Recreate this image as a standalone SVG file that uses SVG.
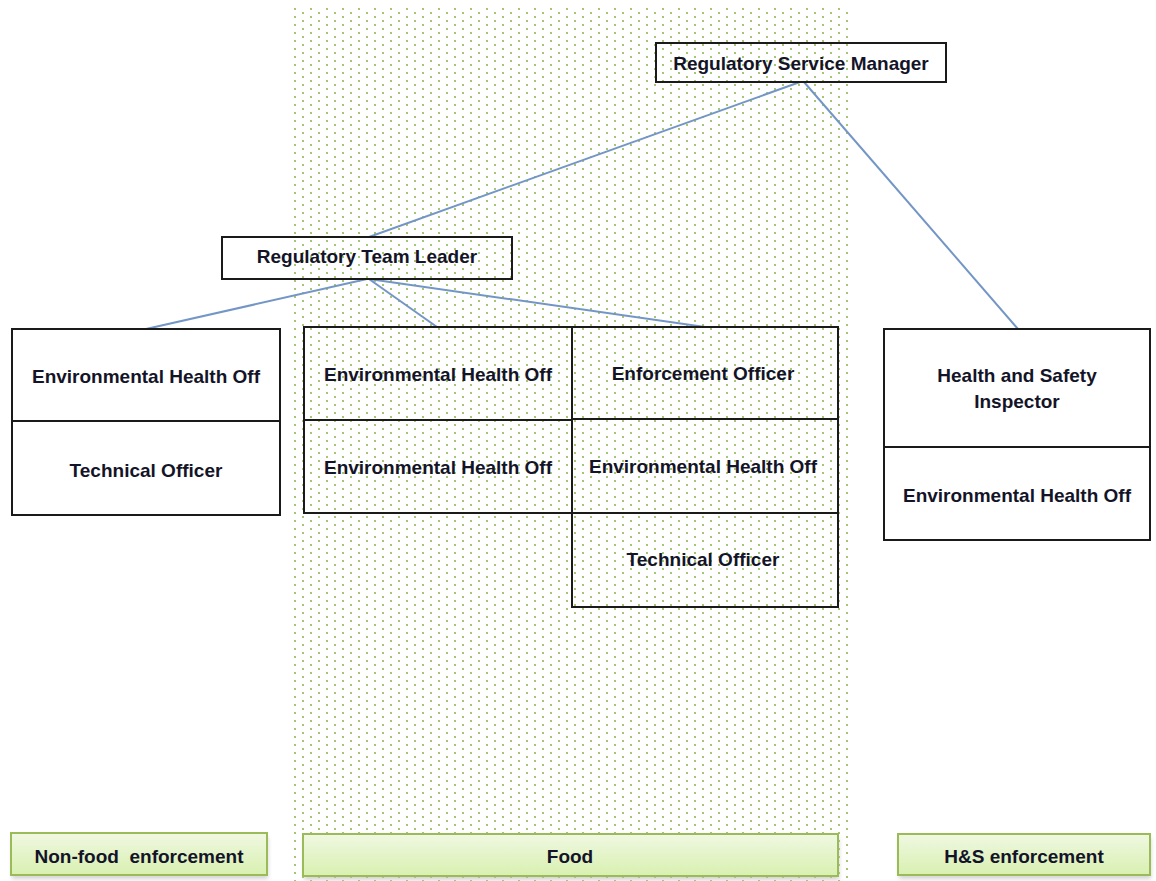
<svg xmlns="http://www.w3.org/2000/svg" width="1156" height="881" viewBox="0 0 1156 881">
<defs>
<pattern id="dots" patternUnits="userSpaceOnUse" x="294" y="8" width="16" height="8">
<rect x="0" y="0" width="2" height="2" fill="#a6c676"/>
<rect x="8" y="4" width="2" height="2" fill="#a6c676"/>
</pattern>
<linearGradient id="lbl" x1="0" y1="0" x2="0" y2="1">
<stop offset="0" stop-color="#f0f8e2"/>
<stop offset="1" stop-color="#d8f0b0"/>
</linearGradient>
<filter id="sh" x="-5%" y="-20%" width="110%" height="160%">
<feGaussianBlur stdDeviation="2"/>
</filter>
</defs>
<style>
.box{fill:none;stroke:#1a1a1a;stroke-width:2}
.t{font-family:"Liberation Sans",Arial,sans-serif;font-weight:bold;font-size:19px;fill:#141428;text-anchor:middle}
.con{stroke:#7396c6;stroke-width:2;fill:none}
.lbl{fill:url(#lbl);stroke:#9bbb59;stroke-width:2}
.shadow{fill:#b8b8b8;opacity:0.6;filter:url(#sh)}
</style>
<rect x="0" y="0" width="1156" height="881" fill="#ffffff"/>
<rect id="food-zone" x="293" y="6" width="558" height="875" fill="url(#dots)"/>

<g id="connectors">
<line class="con" x1="800" y1="82" x2="369" y2="237"/>
<line class="con" x1="804" y1="82" x2="1018" y2="329"/>
<line class="con" x1="367" y1="279" x2="146" y2="329"/>
<line class="con" x1="369" y1="279" x2="437" y2="327"/>
<line class="con" x1="369" y1="279" x2="705" y2="327"/>
</g>

<g id="regulatory-service-manager">
<rect class="box" x="656" y="43" width="290" height="39"/>
<text class="t" x="801" y="70">Regulatory Service Manager</text>
</g>

<g id="regulatory-team-leader">
<rect class="box" x="222" y="237" width="290" height="42"/>
<text class="t" x="367" y="263">Regulatory Team Leader</text>
</g>

<g id="nonfood-team">
<rect class="box" x="12" y="329" width="268" height="92"/>
<text class="t" x="146" y="383">Environmental Health Off</text>
<rect class="box" x="12" y="421" width="268" height="94"/>
<text class="t" x="146" y="477">Technical Officer</text>
</g>

<g id="food-team-a">
<rect class="box" x="304" y="327" width="268" height="93"/>
<text class="t" x="438" y="381">Environmental Health Off</text>
<rect class="box" x="304" y="420" width="268" height="93"/>
<text class="t" x="438" y="474">Environmental Health Off</text>
</g>

<g id="food-team-b">
<rect class="box" x="572" y="327" width="266" height="92"/>
<text class="t" x="703" y="380">Enforcement Officer</text>
<rect class="box" x="572" y="419" width="266" height="94"/>
<text class="t" x="703" y="473">Environmental Health Off</text>
<rect class="box" x="572" y="513" width="266" height="94"/>
<text class="t" x="703" y="566">Technical Officer</text>
</g>

<g id="hs-team">
<rect class="box" x="884" y="329" width="266" height="118"/>
<text class="t" x="1017" y="382">Health and Safety</text>
<text class="t" x="1017" y="408">Inspector</text>
<rect class="box" x="884" y="447" width="266" height="93"/>
<text class="t" x="1017" y="502">Environmental Health Off</text>
</g>

<g id="label-nonfood">
<rect class="shadow" x="12" y="837" width="256" height="42"/>
<rect class="lbl" x="11" y="833" width="256" height="42"/>
<text class="t" x="139" y="863" xml:space="preserve">Non-food  enforcement</text>
</g>

<g id="label-food">
<rect class="shadow" x="304" y="838" width="535" height="42"/>
<rect class="lbl" x="303" y="834" width="535" height="42"/>
<text class="t" x="570" y="863">Food</text>
</g>

<g id="label-hs">
<rect class="shadow" x="899" y="838" width="252" height="41"/>
<rect class="lbl" x="898" y="834" width="252" height="41"/>
<text class="t" x="1024" y="863">H&amp;S enforcement</text>
</g>
</svg>
